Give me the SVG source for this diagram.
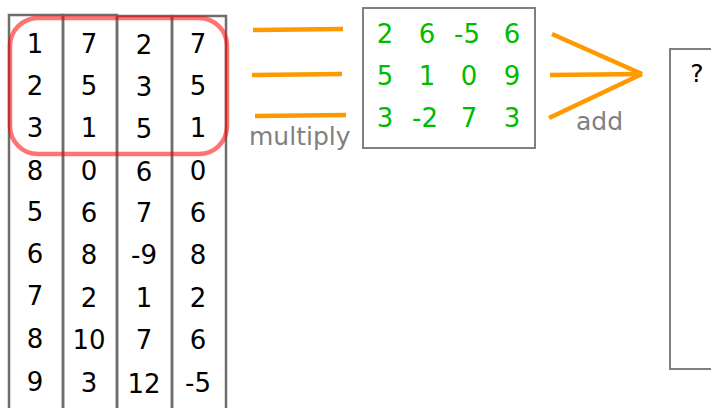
<svg xmlns="http://www.w3.org/2000/svg" width="711" height="408" viewBox="0 0 711 408">
  <style>
    .box { fill: none; stroke: #808080; stroke-width: 2; }
    .col { fill: none; stroke: #6e6e6e; stroke-width: 2.5; }
    .num { font-family: "DejaVu Sans", sans-serif; font-size: 26px; text-anchor: middle; fill: #000; }
    .green { fill: #00bb00; }
    .label { font-family: "DejaVu Sans", sans-serif; font-size: 25px; fill: #808080; }
    .wire { stroke: #ff9900; stroke-width: 4.5; fill: none; stroke-linecap: butt; }
  </style>
  <rect width="711" height="408" fill="#fff"/>

  <!-- data table: four columns -->
  <g id="table">
    <rect class="col" x="9" y="15" width="54" height="420"/>
    <rect class="col" x="63" y="15" width="54" height="420"/>
    <rect class="col" x="117" y="16" width="55" height="420"/>
    <rect class="col" x="172" y="16" width="54" height="420"/>
    <g class="num">
      <text x="35" y="53">1</text><text x="89" y="53">7</text><text x="144" y="54">2</text><text x="198" y="53">7</text>
      <text x="35" y="95">2</text><text x="89" y="95">5</text><text x="144" y="96">3</text><text x="198" y="95">5</text>
      <text x="35" y="137">3</text><text x="89" y="137">1</text><text x="144" y="138">5</text><text x="198" y="137">1</text>
      <text x="35" y="180">8</text><text x="89" y="180">0</text><text x="144" y="181">6</text><text x="198" y="180">0</text>
      <text x="35" y="221">5</text><text x="89" y="222">6</text><text x="144" y="222">7</text><text x="198" y="222">6</text>
      <text x="35" y="263">6</text><text x="89" y="264">8</text><text x="144" y="264">-9</text><text x="198" y="264">8</text>
      <text x="35" y="305">7</text><text x="89" y="307">2</text><text x="144" y="307">1</text><text x="198" y="307">2</text>
      <text x="35" y="348">8</text><text x="89" y="349">10</text><text x="144" y="349">7</text><text x="198" y="349">6</text>
      <text x="35" y="391">9</text><text x="89" y="392">3</text><text x="144" y="393">12</text><text x="198" y="392">-5</text>
    </g>
  </g>

  <!-- highlight around the first three rows -->
  <g id="highlight">
    <rect x="10" y="18" width="217" height="136" rx="28" ry="28" fill="none" stroke="#ff0000" stroke-opacity="0.55" stroke-width="4.5"/>
  </g>

  <!-- weight matrix -->
  <g id="weights">
    <rect class="box" x="363" y="8" width="172" height="140"/>
    <g class="num green">
      <text x="385" y="43">2</text><text x="427" y="43">6</text><text x="467" y="43">-5</text><text x="512" y="43">6</text>
      <text x="385" y="85">5</text><text x="427" y="85">1</text><text x="469" y="85">0</text><text x="512" y="85">9</text>
      <text x="385" y="127">3</text><text x="425" y="127">-2</text><text x="469" y="127">7</text><text x="512" y="127">3</text>
    </g>
  </g>

  <!-- result box -->
  <g id="result">
    <rect class="box" x="670" y="49" width="60" height="320"/>
    <text class="num" x="697" y="82" style="font-size:25px">?</text>
  </g>

  <!-- connectors -->
  <g id="connectors">
    <line class="wire" x1="253" y1="30" x2="343" y2="29"/>
    <line class="wire" x1="252" y1="75" x2="342" y2="74"/>
    <line class="wire" x1="255" y1="116" x2="346" y2="115"/>
    <line class="wire" x1="552" y1="34" x2="642" y2="74"/>
    <line class="wire" x1="550" y1="75" x2="642" y2="74"/>
    <line class="wire" x1="549" y1="118" x2="642" y2="74"/>
  </g>

  <g id="labels">
    <text class="label" x="249" y="145">multiply</text>
    <text class="label" x="576" y="130">add</text>
  </g>
</svg>
